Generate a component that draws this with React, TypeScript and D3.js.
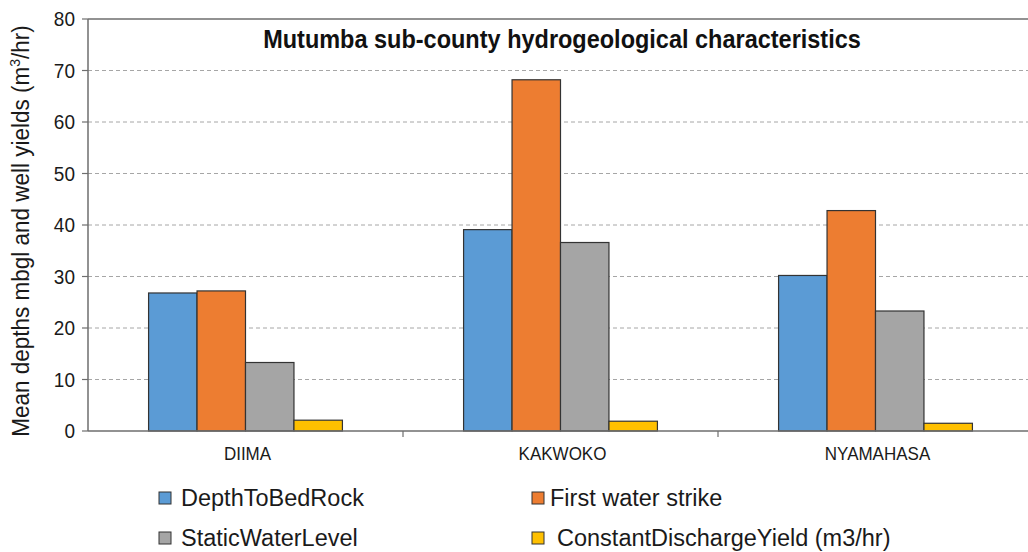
import * as d3 from "d3";

const categories = ["DIIMA", "KAKWOKO", "NYAMAHASA"];
const seriesNames = [
  "DepthToBedRock",
  "First water strike",
  "StaticWaterLevel",
  "ConstantDischargeYield (m3/hr)",
];
const depthToBedRock = [26.8, 39.1, 30.2];
const firstWaterStrike = [27.2, 68.2, 42.8];
const staticWaterLevel = [13.3, 36.6, 23.3];
const constantDischargeYield = [2.1, 1.9, 1.5];
const yTicks = [0, 10, 20, 30, 40, 50, 60, 70, 80];

const seriesValues = [depthToBedRock, firstWaterStrike, staticWaterLevel, constantDischargeYield];
const colors = ["#5b9bd5", "#ed7d31", "#a5a5a5", "#ffc000"];

const W = 1028;
const H = 552;
const font = "Arial, 'Liberation Sans', sans-serif";
const stretch = 1.1; // the reference text looks slightly taller than wide

export default function App() {
  const margin = { top: 19, left: 88, bottom: 431, right: 1033 };

  const x0 = d3.scaleBand<string>().domain(categories).range([margin.left, margin.right]).padding(0);
  const x1 = d3
    .scaleBand<string>()
    .domain(seriesNames)
    .range([0, x0.bandwidth()])
    .paddingInner(0)
    .paddingOuter(1.25);
  const y = d3.scaleLinear().domain([0, 80]).range([margin.bottom, margin.top]);

  // legend layout: two columns, two rows
  const legendCols = [159, 532];
  const legendTextX = [181, 550, 181, 557];
  const legendRows = [498, 538];

  return (
    <svg
      width={W}
      height={H}
      style={{ position: "absolute", left: 0, top: 0, background: "#fff" }}
      fontFamily={font}
    >
      <rect width={W} height={H} fill="#fff" />

      {/* Gridlines */}
      {yTicks.slice(1, -1).map((t) => (
        <line
          key={t}
          x1={margin.left}
          x2={W}
          y1={y(t)}
          y2={y(t)}
          stroke="#a6a6a6"
          strokeWidth={1}
          strokeDasharray="4,3"
        />
      ))}
      <line x1={margin.left} x2={W} y1={y(80)} y2={y(80)} stroke="#6e6e6e" strokeWidth={1.5} />

      {/* Bars */}
      {categories.map((c, ci) => (
        <g key={c} transform={`translate(${x0(c)},0)`}>
          {seriesNames.map((s, si) => {
            const v = seriesValues[si][ci];
            return (
              <rect
                key={s}
                x={x1(s)}
                y={y(v)}
                width={x1.bandwidth()}
                height={y(0) - y(v)}
                fill={colors[si]}
                stroke="#333"
                strokeWidth={1.2}
              />
            );
          })}
        </g>
      ))}

      {/* Y axis */}
      <line x1={margin.left} x2={margin.left} y1={y(80)} y2={y(0)} stroke="#6e6e6e" strokeWidth={1.5} />
      {yTicks.map((t) => (
        <g key={t}>
          <line x1={margin.left - 6} x2={margin.left} y1={y(t)} y2={y(t)} stroke="#6e6e6e" strokeWidth={1.2} />
          <text
            transform={`translate(${margin.left - 13},${y(t)}) scale(1,${stretch})`}
            dy="0.35em"
            textAnchor="end"
            fontSize={19}
            fill="#1a1a1a"
          >
            {t}
          </text>
        </g>
      ))}

      {/* X axis */}
      <line x1={margin.left} x2={W} y1={y(0)} y2={y(0)} stroke="#6e6e6e" strokeWidth={1.5} />
      {categories.slice(1).map((c) => (
        <line
          key={c}
          x1={x0(c)!}
          x2={x0(c)!}
          y1={y(0)}
          y2={y(0) + 6}
          stroke="#6e6e6e"
          strokeWidth={1.2}
        />
      ))}
      {categories.map((c) => (
        <text
          key={c}
          transform={`translate(${x0(c)! + x0.bandwidth() / 2 + 2},${y(0) + 29}) scale(1,${stretch})`}
          textAnchor="middle"
          fontSize={17}
          fill="#1a1a1a"
        >
          {c}
        </text>
      ))}

      {/* Axis title */}
      <text
        transform={`translate(29,${(margin.top + margin.bottom) / 2 + 6}) rotate(-90) scale(1,${stretch})`}
        textAnchor="middle"
        fontSize={22.5}
        fill="#1a1a1a"
      >
        Mean depths mbgl and well yields (m
        <tspan dy="-8" fontSize={14}>3</tspan>
        <tspan dy="8">/hr)</tspan>
      </text>

      {/* Chart title */}
      <text
        transform={`translate(562,48) scale(1,${stretch})`}
        textAnchor="middle"
        fontSize={23.5}
        fontWeight="bold"
        fill="#111"
      >
        Mutumba sub-county hydrogeological characteristics
      </text>

      {/* Legend */}
      {seriesNames.map((s, i) => {
        const col = i % 2;
        const row = Math.floor(i / 2);
        return (
          <g key={s}>
            <rect
              x={legendCols[col]}
              y={legendRows[row] - 6}
              width={12}
              height={12}
              fill={colors[i]}
              stroke="#333"
              strokeWidth={1}
            />
            <text
              x={legendTextX[i]}
              y={legendRows[row]}
              dy="0.36em"
              fontSize={23.5}
              fill="#1a1a1a"
            >
              {s}
            </text>
          </g>
        );
      })}
    </svg>
  );
}
